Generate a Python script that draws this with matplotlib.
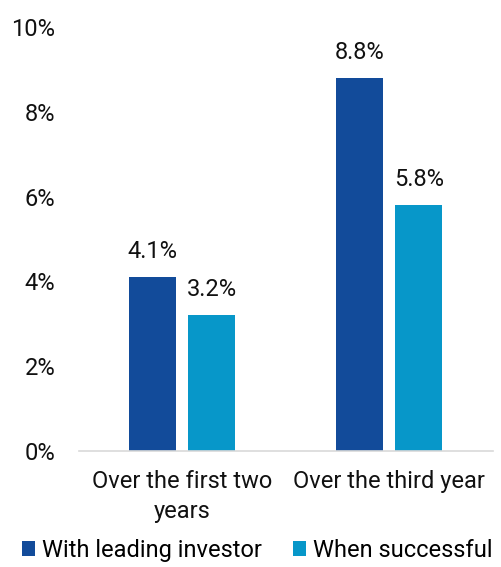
import numpy as np
import matplotlib.pyplot as plt

plt.rcParams['font.family'] = ['Roboto', 'DejaVu Sans']

categories = ["Over the first two\nyears", "Over the third year"]
series_names = ["With leading investor", "When successful"]
leading = [4.1, 8.8]
successful = [3.2, 5.8]
colors = ["#124B9A", "#0797C9"]

fig = plt.figure(figsize=(5.02, 5.67), dpi=100)
ax = fig.add_axes([0.157, 0.2046, 0.825, 0.7477])

x = np.arange(len(categories))
w = 0.227
off = 0.1425
b1 = ax.bar(x - off, leading, w, color=colors[0], label=series_names[0])
b2 = ax.bar(x + off, successful, w, color=colors[1], label=series_names[1])

for bars, vals in ((b1, leading), (b2, successful)):
    for bar, v in zip(bars, vals):
        ax.annotate(f"{v:.1f}%", (bar.get_x() + bar.get_width() / 2, v),
                    xytext=(0, 10), textcoords="offset points",
                    ha="center", va="bottom", fontsize=17, color="#111111")

ax.set_xlim(-0.5, 1.5)
ax.set_ylim(0, 10)
ax.set_yticks(range(0, 11, 2))
ax.set_yticklabels([f"{t}%" for t in range(0, 11, 2)])
ax.set_xticks(x)
ax.set_xticklabels(categories, linespacing=1.35)
ax.tick_params(axis="both", length=0, labelsize=17, colors="#111111")
ax.tick_params(axis="y", pad=17)
ax.tick_params(axis="x", pad=14)

for s in ("top", "right", "left"):
    ax.spines[s].set_visible(False)
ax.spines["bottom"].set_color("#d9d9d9")
ax.spines["bottom"].set_linewidth(1.2)

fig.legend(handles=[b1, b2], labels=series_names, loc="lower center",
           bbox_to_anchor=(0.512, -0.016), ncol=2, frameon=False,
           fontsize=17, handlelength=0.55, handleheight=0.55,
           handletextpad=0.3, columnspacing=1.3, borderpad=0.1)

fig.savefig("out.png", dpi=100)
